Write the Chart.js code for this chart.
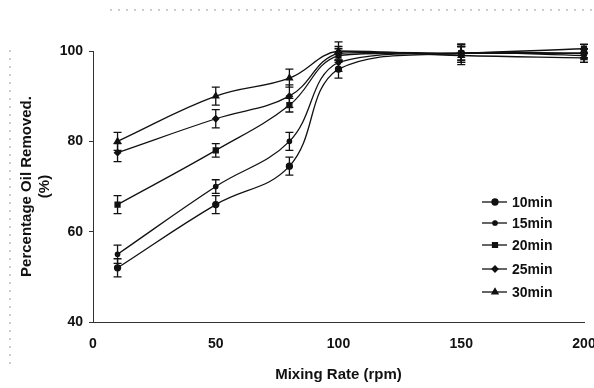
<!DOCTYPE html>
<html>
<head>
<meta charset="utf-8">
<script src="https://cdn.jsdelivr.net/npm/chart.js@4"></script>
<style>
  html, body { margin: 0; padding: 0; background: #fff; }
  #wrap { width: 594px; height: 388px; }
</style>
</head>
<body>
<div id="wrap"><canvas id="oil" width="594" height="388"></canvas></div>
<script>
// mixing rate (rpm)
const rates = [10, 50, 80, 100, 150, 200];
const seriesNames = ['10min', '15min', '20min', '25min', '30min'];

// percentage oil removed for each contact time
const oil10 = [52, 66, 74.5, 96, 99.5, 99.5];
const oil15 = [55, 70, 80, 97.5, 99.5, 99];
const oil20 = [66, 78, 88, 99, 99.5, 100.5];
const oil25 = [77.5, 85, 90, 99.5, 99.5, 99.5];
const oil30 = [80, 90, 94, 100, 99, 98.5];

// error bar half-heights
const err10 = [2, 2, 2, 2, 1.5, 1];
const err15 = [2, 1.5, 2, 2, 2, 1.5];
const err20 = [2, 1.5, 1.5, 1.5, 1.5, 1];
const err25 = [2, 2, 2.5, 1.5, 2, 1];
const err30 = [2, 2, 2, 2, 2, 1];

const xTicks = [0, 50, 100, 150, 200];
const yTicks = [40, 60, 80, 100];

const allValues = [oil10, oil15, oil20, oil25, oil30];
const allErrors = [err10, err15, err20, err25, err30];
const markers = [
    { style: 'circle', radius: 3 },
    { style: 'circle', radius: 2.2 },
    { style: 'rect', radius: 3.5 },
    { style: 'rectRot', radius: 3 },
    { style: 'triangle', radius: 3.5 }
];

function points(values) {
    return values.map(function (v, i) { return { x: rates[i], y: v }; });
}

const datasets = seriesNames.map(function (name, i) {
    return {
        label: name,
        data: points(allValues[i]),
        errors: allErrors[i],
        borderColor: '#111',
        backgroundColor: '#111',
        borderWidth: 1.3,
        tension: 0.4,
        pointStyle: markers[i].style,
        pointRadius: markers[i].radius,
        clip: false
    };
});

const font = { family: "'Liberation Sans', Arial, sans-serif", size: 14, weight: 'bold' };
const titleFont = { family: "'Liberation Sans', Arial, sans-serif", size: 15, weight: 'bold' };

// error bars drawn through the chart scales
const errorBars = {
    id: 'errorBars',
    afterDatasetsDraw(chart) {
        const ctx = chart.ctx;
        const xs = chart.scales.x, ys = chart.scales.y;
        ctx.save();
        ctx.strokeStyle = '#111';
        ctx.lineWidth = 1.3;
        chart.data.datasets.forEach(function (ds) {
            ds.data.forEach(function (p, i) {
                const e = ds.errors[i];
                const px = xs.getPixelForValue(p.x);
                const top = ys.getPixelForValue(p.y + e);
                const bot = ys.getPixelForValue(p.y - e);
                ctx.beginPath();
                ctx.moveTo(px, top); ctx.lineTo(px, bot);
                ctx.moveTo(px - 4, top); ctx.lineTo(px + 4, top);
                ctx.moveTo(px - 4, bot); ctx.lineTo(px + 4, bot);
                ctx.stroke();
            });
        });
        ctx.restore();
    }
};

// legend inside the plot, lower right
const sideLegend = {
    id: 'sideLegend',
    afterDraw(chart) {
        const ctx = chart.ctx;
        const rows = [202, 223, 245, 269, 292];
        ctx.save();
        ctx.font = 'bold 14px "Liberation Sans", Arial, sans-serif';
        ctx.textBaseline = 'middle';
        ctx.fillStyle = '#111';
        chart.data.datasets.forEach(function (ds, i) {
            const y = rows[i];
            ctx.strokeStyle = '#111';
            ctx.lineWidth = 1.3;
            ctx.beginPath();
            ctx.moveTo(482, y); ctx.lineTo(507, y);
            ctx.stroke();
            Chart.helpers.drawPoint(ctx, { pointStyle: ds.pointStyle, radius: ds.pointRadius, borderWidth: 1 }, 495, y);
            ctx.fill();
            ctx.fillText(ds.label, 512, y + 1);
        });
        // faint scan frame
        ctx.strokeStyle = '#999';
        ctx.lineWidth = 1;
        ctx.setLineDash([2, 6]);
        ctx.beginPath();
        ctx.moveTo(110, 10); ctx.lineTo(594, 10);
        ctx.moveTo(10, 50); ctx.lineTo(10, 368);
        ctx.stroke();
        ctx.restore();
    }
};

new Chart(document.getElementById('oil').getContext('2d'), {
    type: 'line',
    data: { datasets: datasets },
    options: {
        responsive: false,
        animation: false,
        layout: { padding: { top: 51, right: 10, left: 0, bottom: 0 } },
        scales: {
            x: {
                type: 'linear',
                min: 0,
                max: 200,
                afterBuildTicks: function (s) { s.ticks = xTicks.map(function (v) { return { value: v }; }); },
                afterFit: function (s) { s.height = 66; s.paddingRight = 0; s.paddingLeft = 0; },
                grid: { display: true, drawOnChartArea: false, drawTicks: false },
                border: { color: '#333', width: 1, dash: [12, 3] },
                ticks: { color: '#111', font: font, padding: 14, maxRotation: 0 },
                title: { display: true, text: 'Mixing Rate (rpm)', color: '#111', font: titleFont, padding: { top: 0, bottom: 4 } }
            },
            y: {
                min: 40,
                max: 100,
                afterBuildTicks: function (s) { s.ticks = yTicks.map(function (v) { return { value: v }; }); },
                afterFit: function (s) { s.width = 93; },
                grid: { drawOnChartArea: false, drawTicks: true, tickLength: 4, color: '#333' },
                border: { color: '#333', width: 1, dash: [10, 3] },
                ticks: { color: '#111', font: font, padding: 6 },
                title: {
                    display: true,
                    text: ['Percentage Oil Removed.', '(%)'],
                    color: '#111',
                    font: titleFont,
                    padding: { top: 18, bottom: 0 }
                }
            }
        },
        plugins: {
            legend: { display: false },
            tooltip: { enabled: false }
        }
    },
    plugins: [errorBars, sideLegend]
});
</script>
</body>
</html>
